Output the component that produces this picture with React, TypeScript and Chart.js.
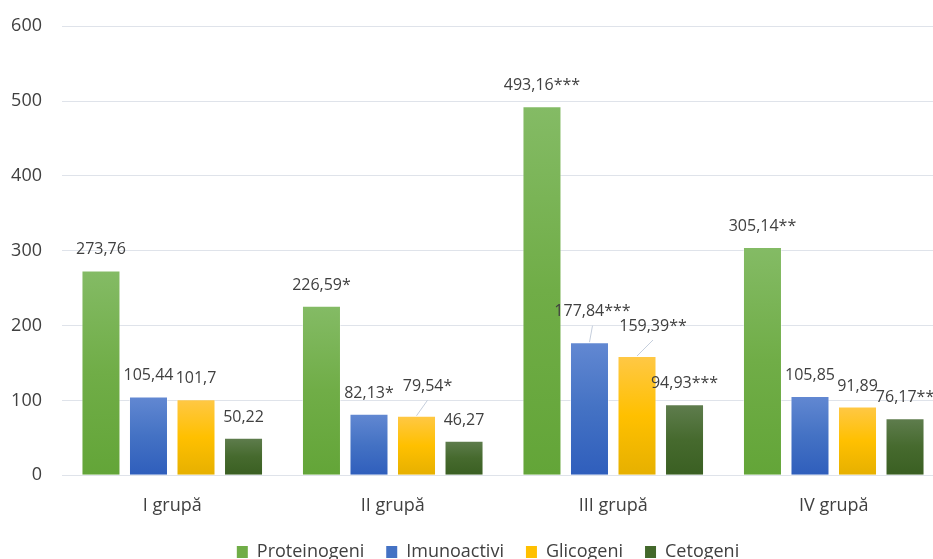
import React, { useEffect, useRef } from "react";
import { Chart, registerables } from "chart.js";

Chart.register(...registerables);

const categories = ["I grupă", "II grupă", "III grupă", "IV grupă"];
const seriesNames = ["Proteinogeni", "Imunoactivi", "Glicogeni", "Cetogeni"];
const proteinogeni = [273.76, 226.59, 493.16, 305.14];
const imunoactivi = [105.44, 82.13, 177.84, 105.85];
const glicogeni = [101.7, 79.54, 159.39, 91.89];
const cetogeni = [50.22, 46.27, 94.93, 76.17];
const proteinogeniMarks = ["", "*", "***", "**"];
const imunoactiviMarks = ["", "*", "***", ""];
const glicogeniMarks = ["", "*", "**", ""];
const cetogeniMarks = ["", "", "***", "**"];
const yTicks = [0, 100, 200, 300, 400, 500, 600];

const legendColors = ["#70AD47", "#4472C4", "#FFC000", "#43682B"];
const gradientStops = [
  ["#84bb65", "#70ad47", "#63a538"],
  ["#6288d2", "#4472c4", "#2f5ebc"],
  ["#ffc846", "#ffc000", "#e6b000"],
  ["#5f7d4e", "#466a2e", "#3a5f22"],
];
// label offsets (dx, dy) in px for labels moved away from default, with leader lines
const labelOffsets: Record<string, [number, number]> = {
  "2-1": [11, -9],
  "1-2": [3, -10],
  "2-2": [16, -9.5],
};

const fmt = (v: number) => String(v).replace(".", ",");

const labelPlugin = {
  id: "barLabels",
  afterDatasetsDraw(chart: any) {
    const ctx = chart.ctx;
    const marks = [proteinogeniMarks, imunoactiviMarks, glicogeniMarks, cetogeniMarks];
    ctx.save();
    ctx.font = "16px 'Open Sans'";
    ctx.fillStyle = "#404040";
    ctx.textAlign = "center";
    ctx.textBaseline = "middle";
    chart.data.datasets.forEach((ds: any, di: number) => {
      const meta = chart.getDatasetMeta(di);
      meta.data.forEach((el: any, i: number) => {
        const off = labelOffsets[di + "-" + i];
        const dx = off ? off[0] : 0;
        const dy = off ? off[1] : 0;
        const lx = el.x + dx;
        const ly = el.y - 20.5 + dy;
        if (off) {
          ctx.save();
          ctx.strokeStyle = "#c5cedc";
          ctx.lineWidth = 1;
          ctx.beginPath();
          ctx.moveTo(el.x, el.y);
          ctx.lineTo(lx, ly + 14);
          ctx.stroke();
          ctx.restore();
        }
        ctx.fillText(fmt(ds.data[i]) + marks[di][i], lx, ly);
      });
    });
    ctx.restore();
  },
};

const legendShift = {
  id: "legendShift",
  afterLayout(chart: any) {
    if (chart.legend) {
      chart.legend.right += 32;
      chart.legend.width += 32;
    }
  },
};

export default function App() {
  const ref = useRef<HTMLCanvasElement>(null);
  useEffect(() => {
    if (!ref.current) return;
    const seriesData = [proteinogeni, imunoactivi, glicogeni, cetogeni];
    const chart = new Chart(ref.current, {
      type: "bar",
      data: {
        labels: categories,
        datasets: seriesData.map((d, si) => ({
          label: seriesNames[si],
          data: d,
          backgroundColor: (c: any) => {
            const ch = c.chart;
            const stops = gradientStops[si];
            if (!ch.chartArea || c.raw === undefined) return stops[1];
            const y = ch.scales.y;
            const top = y.getPixelForValue(c.raw);
            const base = y.getPixelForValue(0);
            const g = ch.ctx.createLinearGradient(0, top, 0, base);
            g.addColorStop(0, stops[0]);
            g.addColorStop(0.5, stops[1]);
            g.addColorStop(1, stops[2]);
            return g;
          },
          borderColor: "rgba(255,255,255,0.45)",
          borderWidth: 1,
          categoryPercentage: 0.862,
          barPercentage: 0.821,
        })),
      },
      options: {
        responsive: false,
        animation: false,
        layout: { padding: { left: 0, right: 32, top: 26.2, bottom: 4 } },
        plugins: {
          tooltip: { enabled: false },
          legend: {
            position: "bottom",
            labels: {
              boxWidth: 11,
              boxHeight: 12,
              padding: 22,
              color: "#404040",
              font: { family: "'Open Sans'", size: 18 },
              generateLabels: () =>
                seriesNames.map((n, i) => ({
                  text: n,
                  fillStyle: legendColors[i],
                  strokeStyle: legendColors[i],
                  lineWidth: 0,
                  hidden: false,
                  datasetIndex: i,
                  fontColor: "#404040",
                })),
            },
          },
        },
        scales: {
          x: {
            grid: { display: false, drawTicks: false },
            border: { display: false },
            ticks: {
              color: "#404040",
              padding: 20,
              font: { family: "'Open Sans'", size: 18 },
            },
            afterFit: (s: any) => {
              s.height = 45.7;
            },
          },
          y: {
            min: 0,
            max: 600,
            afterBuildTicks: (s: any) => {
              s.ticks = yTicks.map((v) => ({ value: v }));
            },
            grid: { color: "#dfe3ea", lineWidth: 1, drawTicks: false },
            border: { display: false },
            ticks: {
              color: "#404040",
              padding: 20,
              font: { family: "'Open Sans'", size: 18 },
            },
            afterFit: (s: any) => {
              s.width = 62;
              s.paddingTop = 5;
              s.paddingBottom = 5;
            },
          },
        },
      },
      plugins: [labelPlugin, legendShift],
    });
    return () => chart.destroy();
  }, []);
  return (
    <div
      style={{
        position: "fixed",
        left: 0,
        top: 0,
        width: 933,
        height: 559,
        overflow: "hidden",
        background: "#fff",
      }}
    >
      <canvas ref={ref} width={976} height={575} style={{ display: "block" }} />
    </div>
  );
}
